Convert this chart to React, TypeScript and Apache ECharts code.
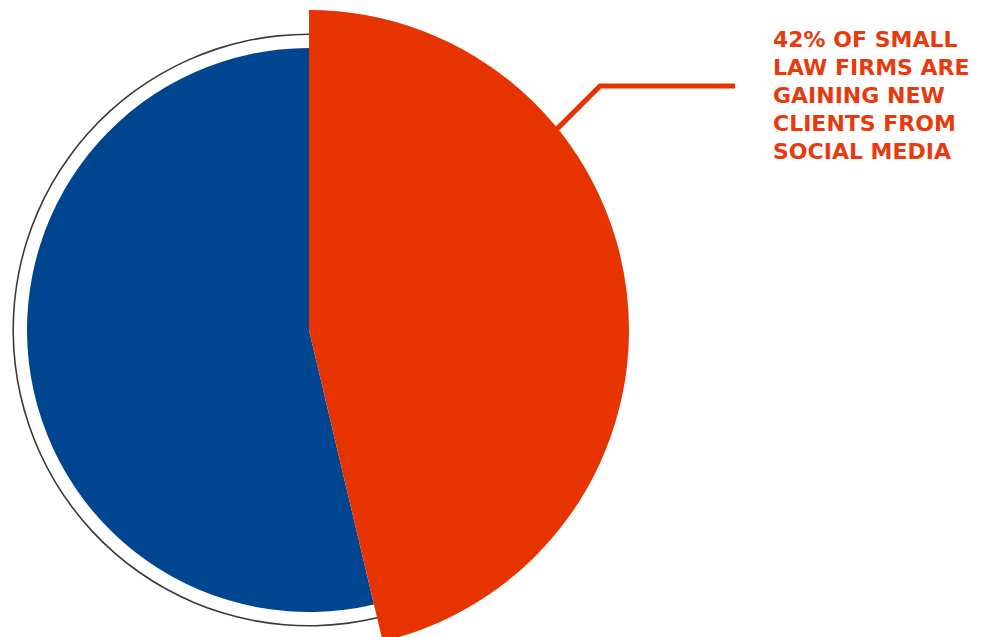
import React, { useEffect, useRef } from "react";
import * as echarts from "echarts";

const categories = ["Gaining new clients from social media", "Other"];
const values = [46.3, 53.7];
const colors = ["#E63300", "#00458F"];
const labelLines = ["42% OF SMALL", "LAW FIRMS ARE", "GAINING NEW", "CLIENTS FROM", "SOCIAL MEDIA"];

const CX = 309;
const CY = 330;
const R_RED = 320;
const R_BLUE = 282;
const R_RING = 296;

export default function App() {
  const ref = useRef<HTMLDivElement>(null);
  useEffect(() => {
    if (!ref.current) return;
    const chart = echarts.init(ref.current, null, { renderer: "svg" });
    const mk = (visibleIdx: number | null, col?: string) =>
      categories.map((name, i) => ({
        name,
        value: values[i],
        itemStyle: {
          color: col ? col : visibleIdx === null || visibleIdx === i ? colors[i] : "rgba(0,0,0,0)",
        },
      }));
    const ang = (39 * Math.PI) / 180;
    const sx = CX + (R_RED - 2) * Math.cos(ang);
    const sy = CY - (R_RED - 2) * Math.sin(ang);
    const bendY = 86;
    const bendX = sx + (sy - bendY);
    const common = {
      type: "pie" as const,
      center: [CX, CY],
      startAngle: 90,
      clockwise: true,
      label: { show: false },
      labelLine: { show: false },
      silent: true,
      emphasis: { disabled: true },
    };
    chart.setOption({
      animation: false,
      title: {
        text: labelLines.join("\n"),
        left: 773,
        top: 25,
        padding: 0,
        textStyle: {
          fontFamily: "DejaVu Sans",
          fontWeight: "bold",
          fontSize: 22,
          lineHeight: 28,
          color: "#E83A0C",
        },
      },
      graphic: [
        {
          type: "polyline",
          z: 10,
          shape: { points: [[sx, sy], [bendX, bendY], [735, bendY]] },
          style: { stroke: "#E63300", lineWidth: 5, fill: null },
          silent: true,
        },
      ],
      series: [
        { ...common, radius: [R_RING - 1, R_RING + 0.6], data: mk(null, "#3a3a3a") },
        { ...common, radius: [0, R_BLUE], data: mk(1) },
        { ...common, radius: [0, R_RED], data: mk(0) },
      ],
    });
    return () => chart.dispose();
  }, []);
  return (
    <div
      ref={ref}
      style={{ position: "fixed", left: 0, top: 0, width: 985, height: 637, background: "#fff" }}
    />
  );
}
